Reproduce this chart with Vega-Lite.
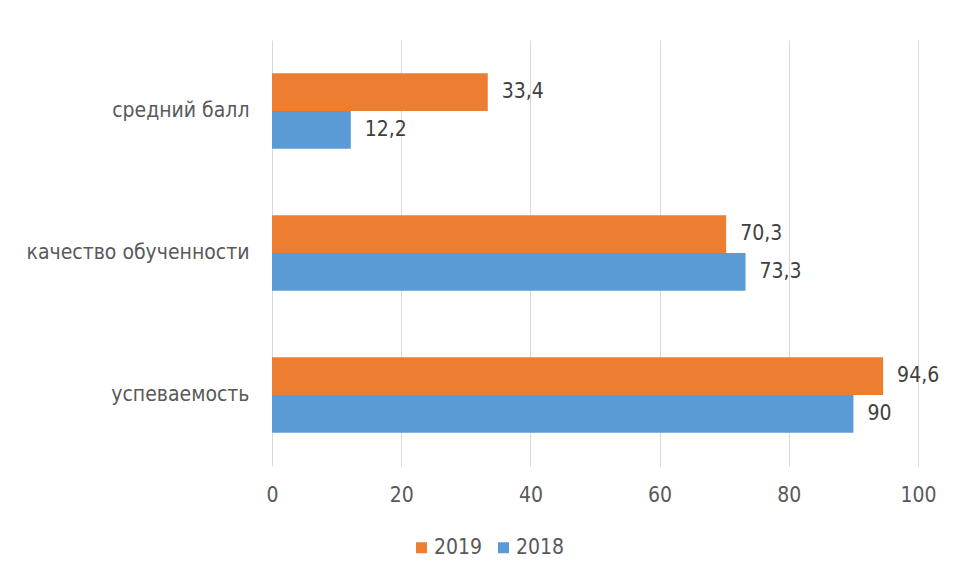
{
  "$schema": "https://vega.github.io/schema/vega-lite/v6.json",
  "autosize": "none",
  "width": 646,
  "height": 426,
  "padding": {"left": 272, "top": 40, "right": 38, "bottom": 115},
  "background": "white",
  "config": {
    "locale": {"number": {"decimal": ",", "thousands": " ", "grouping": [3], "currency": ["", " ₽"]}},
    "font": "Liberation Sans Narrow, DejaVu Sans Condensed, Open Sans",
    "view": {"stroke": null},
    "axis": {"labelColor": "#595959", "labelFont": "Liberation Sans Narrow, DejaVu Sans Condensed, Open Sans", "labelFontSize": 21, "gridColor": "#d9d9d9", "domain": false, "ticks": false, "title": null}
  },
  "data": {
    "values": [
      {"category": "средний балл", "year": "2019", "value": 33.4},
      {"category": "средний балл", "year": "2018", "value": 12.2},
      {"category": "качество обученности", "year": "2019", "value": 70.3},
      {"category": "качество обученности", "year": "2018", "value": 73.3},
      {"category": "успеваемость", "year": "2019", "value": 94.6},
      {"category": "успеваемость", "year": "2018", "value": 90}
    ]
  },
  "encoding": {
    "y": {
      "field": "category", "type": "nominal",
      "sort": ["средний балл", "качество обученности", "успеваемость"],
      "scale": {"paddingInner": 0.47, "paddingOuter": 0.235},
      "axis": {"grid": false, "labelPadding": 23, "labelLimit": 400}
    },
    "yOffset": {"field": "year", "type": "nominal", "sort": ["2019", "2018"], "scale": {"paddingInner": 0, "paddingOuter": 0}},
    "x": {
      "field": "value", "type": "quantitative",
      "scale": {"domain": [0, 100], "nice": false},
      "axis": {"values": [0, 20, 40, 60, 80, 100], "grid": true, "labelPadding": 18, "labelFlush": false}
    }
  },
  "layer": [
    {
      "mark": {"type": "bar"},
      "encoding": {
        "color": {
          "field": "year", "type": "nominal",
          "scale": {"domain": ["2019", "2018"], "range": ["#ED7D31", "#5B9BD5"]},
          "legend": {
            "title": null, "orient": "none", "direction": "horizontal",
            "legendX": 139, "legendY": 497,
            "symbolType": "square", "symbolSize": 120, "symbolStrokeWidth": 0,
            "labelFontSize": 21, "labelColor": "#595959", "labelFont": "Liberation Sans Narrow, DejaVu Sans Condensed, Open Sans",
            "columnPadding": 10, "labelOffset": 2
          }
        }
      }
    },
    {
      "mark": {"type": "text", "align": "left", "baseline": "middle", "dx": 14, "fontSize": 21, "color": "#404040", "font": "Liberation Sans Narrow, DejaVu Sans Condensed, Open Sans"},
      "encoding": {
        "text": {"field": "value", "type": "quantitative", "format": ".1~f"}
      }
    }
  ]
}
